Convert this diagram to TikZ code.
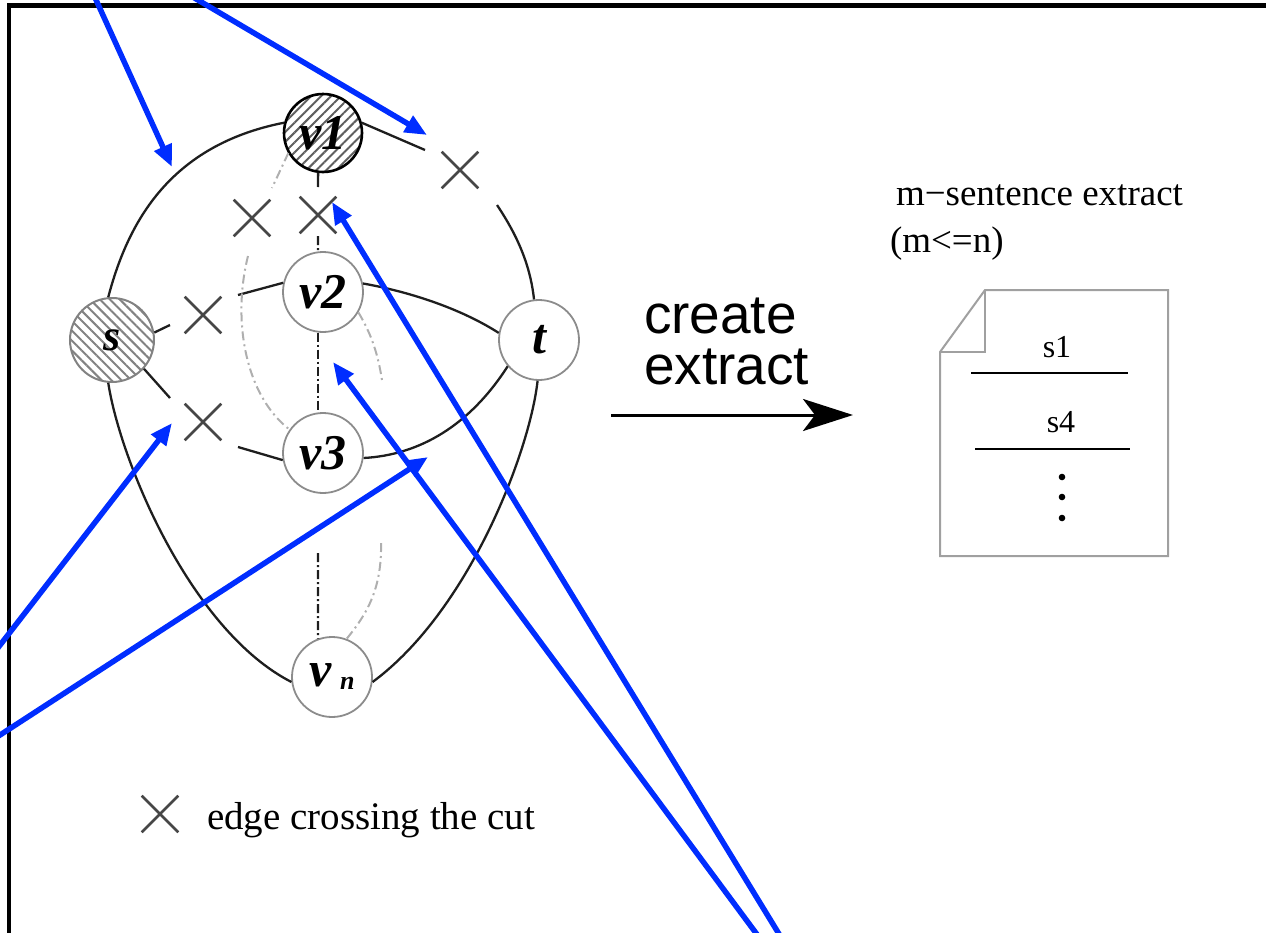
\documentclass[tikz,border=0pt]{standalone}
\usepackage{fontspec}
\setmainfont{Liberation Serif}
\newfontfamily\helv{Liberation Sans}
\usetikzlibrary{arrows.meta,shapes.misc,patterns.meta}

\definecolor{annot}{RGB}{0,45,255}
\definecolor{edgec}{RGB}{30,30,30}
\definecolor{crossc}{RGB}{70,70,70}
\definecolor{ringc}{RGB}{140,140,140}
\definecolor{faint}{RGB}{175,175,175}
\definecolor{pagec}{RGB}{160,160,160}
\definecolor{hatchdark}{RGB}{95,95,95}
\definecolor{hatchlight}{RGB}{130,130,130}

\tikzset{
  vertexbase/.style={circle, draw=ringc, line width=1.8pt, minimum size=80pt, inner sep=0pt,
    font=\fontsize{50}{50}\selectfont\bfseries\itshape},
  vertex/.style={vertexbase, fill=white},
  source/.style={vertexbase, minimum size=84pt, draw=hatchlight, line width=2pt,
    pattern={Lines[angle=-45,distance=7pt,line width=2pt]}, pattern color=hatchlight,
    font=\fontsize{44}{44}\selectfont\bfseries\itshape},
  pivot/.style={vertexbase, minimum size=78pt, draw=black, line width=2.6pt,
    pattern={Lines[angle=45,distance=7pt,line width=2pt]}, pattern color=hatchdark},
  cutmark/.style={cross out, draw=crossc, line width=2.6pt, minimum size=34pt, inner sep=0pt},
  edge/.style={draw=edgec, line width=2.3pt},
  simedge/.style={draw=edgec, line width=2.3pt, dash pattern=on 9pt off 3pt on 2pt off 3pt},
  faintedge/.style={draw=faint, line width=2pt, dash pattern=on 9pt off 4pt on 2pt off 4pt},
  annotarrow/.style={draw=annot, line width=5.5pt, -{Triangle[length=22pt,width=18pt]}},
  plain/.style={inner sep=0pt, outer sep=0pt},
  bigsans/.style={plain, anchor=base west, font=\helv\fontsize{55}{55}\selectfont},
}

\begin{document}
\begin{tikzpicture}[x=1pt,y=-1pt]
\useasboundingbox (0,0) rectangle (1266,932);
\clip (0,0) rectangle (1266,932);

% outer frame (top and left sides)
\draw[line width=4.5pt, line join=miter] (9,940) -- (9,5.5) -- (1270,5.5);

% vertices of the graph
\node[source] (s)  at (112,340) {s};
\node[pivot]  (v1) at (323,133) {v1};
\node[vertex] (v2) at (323,292) {v2};
\node[vertex] (v3) at (323,453) {v3};
\node[vertex] (t)  at (539,340) {t};
\node[vertex] (vn) at (332,677) {v\,\raisebox{-3pt}{\fontsize{26}{26}\selectfont n}};

% marks for edges crossing the cut
\node[cutmark] (x1) at (460,170) {};
\node[cutmark] (x2) at (318,215) {};
\node[cutmark] (x3) at (252,218) {};
\node[cutmark] (x4) at (203,315) {};
\node[cutmark] (x5) at (203,422) {};
\node[cutmark] (xl) at (160,814) {};

% loose ends of broken edges
\coordinate (a1) at (425,150); \coordinate (a2) at (497,205);
\coordinate (b1) at (318,187); \coordinate (b2) at (318,236);
\coordinate (c1) at (272,188); \coordinate (c2) at (248,256);
\coordinate (d1) at (170,325); \coordinate (d2) at (238,295);
\coordinate (e1) at (170,398); \coordinate (e2) at (238,447);
\coordinate (f1) at (382,380); \coordinate (f2) at (381,543);
\coordinate (g1) at (318,553);

% solid edges
\draw[edge] (s.95) .. controls (128,222) and (170,145) .. (v1.165);
\draw[edge] (v1.15) -- (a1);
\draw[edge] (a2) .. controls (515,232) and (530,262) .. (t.97);
\draw[edge] (v1.-97) -- (b1);
\draw[edge] (s.10) -- (d1);
\draw[edge] (d2) -- (v2.167);
\draw[edge] (s.-42) -- (e1);
\draw[edge] (e2) -- (v3.190);
\draw[edge] (s.-95) .. controls (120,460) and (190,630) .. (vn.187);
\draw[edge] (v2.12) .. controls (400,290) and (455,305) .. (t.170);
\draw[edge] (v3.-7) .. controls (420,455) and (470,425) .. (t.-140);
\draw[edge] (t.-92) .. controls (530,450) and (470,610) .. (vn.-7);

% similarity edges
\draw[simedge] (b2) -- (v2.97);
\draw[simedge] (v2.-97) -- (v3.97);
\draw[simedge] (g1) -- (vn.110);
\draw[faintedge] (v1.-150) -- (c1);
\draw[faintedge] (c2) .. controls (232,320) and (245,395) .. (v3.145);
\draw[faintedge] (v2.-30) .. controls (372,335) and (378,355) .. (f1);
\draw[faintedge] (f2) .. controls (382,590) and (366,615) .. (vn.69);

% legend
\node[plain, anchor=base west, font=\fontsize{39}{39}\selectfont] (legend) at (207,829) {edge crossing the cut};

% extraction step
\coordinate (arrS) at (611,415);
\coordinate (arrE) at (853,415);
\draw[line width=3pt, -{Stealth[length=50pt,width=32pt,inset=12pt]}] (arrS) -- (arrE);
\node[bigsans] (create) at (644,333) {create};
\node[bigsans] (extract) at (644,384) {extract};

% resulting extract document
\node[plain, anchor=base west, font=\fontsize{37}{37}\selectfont] (title) at (896,205) {m−sentence extract};
\node[plain, anchor=base west, font=\fontsize{37}{37}\selectfont] (cond) at (890,252) {(m<=n)};
\draw[draw=pagec, line width=2pt, fill=white, line join=miter]
  (940,352) -- (985,290) -- (1168,290) -- (1168,556) -- (940,556) -- cycle;
\draw[draw=pagec, line width=2pt] (985,290) -- (985,352) -- (940,352);
\node[plain, anchor=base, font=\fontsize{32}{32}\selectfont] (sent1) at (1057,357) {s1};
\node[plain, anchor=base, font=\fontsize{32}{32}\selectfont] (sent4) at (1061,432) {s4};
\draw[line width=2.5pt] (971,373) -- (1128,373);
\draw[line width=2.5pt] (975,449) -- (1130,449);
\fill (1062,477) circle (3.3);
\fill (1062,497) circle (3.3);
\fill (1062,518) circle (3.3);

% annotation arrows
\coordinate (o1) at (87,-20);    \coordinate (h1) at (172,167);
\coordinate (o2) at (164,-20);   \coordinate (h2) at (427,135);
\coordinate (o3) at (-20,671);   \coordinate (h3) at (172,423);
\coordinate (o4) at (-20,748);   \coordinate (h4) at (428,457);
\coordinate (o5) at (790,952);   \coordinate (h5) at (332,202);
\coordinate (o6) at (770,952);   \coordinate (h6) at (333,362);
\draw[annotarrow] (o1) -- (h1);
\draw[annotarrow] (o2) -- (h2);
\draw[annotarrow] (o3) -- (h3);
\draw[annotarrow] (o4) -- (h4);
\draw[annotarrow] (o5) -- (h5);
\draw[annotarrow] (o6) -- (h6);
\end{tikzpicture}
\end{document}
